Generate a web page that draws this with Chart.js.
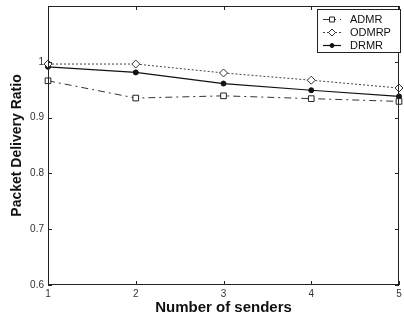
<!DOCTYPE html>
<html>
<head>
<meta charset="utf-8">
<script src="https://cdn.jsdelivr.net/npm/chart.js@4.4.1/dist/chart.umd.min.js"></script>
<style>
  html, body { margin: 0; padding: 0; background: #fff; }
  #wrap { width: 404px; height: 322px; }
</style>
</head>
<body>
<div id="wrap"><canvas id="myChart"></canvas></div>
<script>
const senders = [1, 2, 3, 4, 5];
const admr  = [0.966, 0.935, 0.939, 0.934, 0.929];
const odmrp = [0.996, 0.996, 0.980, 0.967, 0.953];
const drmr  = [0.991, 0.981, 0.961, 0.949, 0.938];
const yTicks = [0.6, 0.7, 0.8, 0.9, 1];

const toPoints = (vals) => senders.map((x, i) => ({ x: x, y: vals[i] }));

// inward ticks on all four sides + frame, like the matlab box
const boxPlugin = {
    id: 'box',
    afterDatasetsDraw(chart) {
        const { ctx, chartArea: a, scales } = chart;
        ctx.save();
        ctx.strokeStyle = '#222';
        ctx.lineWidth = 1;
        ctx.strokeRect(a.left + 0.5, a.top + 0.5, a.right - a.left - 1, a.bottom - a.top - 1);
        ctx.beginPath();
        scales.x.ticks.forEach(t => {
            const px = Math.round(scales.x.getPixelForValue(t.value)) + 0.5;
            ctx.moveTo(px, a.bottom); ctx.lineTo(px, a.bottom - 4);
            ctx.moveTo(px, a.top); ctx.lineTo(px, a.top + 4);
        });
        scales.y.ticks.forEach(t => {
            const py = Math.round(scales.y.getPixelForValue(t.value)) + 0.5;
            ctx.moveTo(a.left, py); ctx.lineTo(a.left + 4, py);
            ctx.moveTo(a.right, py); ctx.lineTo(a.right - 4, py);
        });
        ctx.stroke();
        ctx.restore();
    }
};

// framed legend with line samples, top right
const legendPlugin = {
    id: 'boxLegend',
    afterDraw(chart) {
        const { ctx } = chart;
        const x0 = 317, y0 = 9, w = 83, h = 43;
        ctx.save();
        ctx.fillStyle = '#fff';
        ctx.fillRect(x0, y0, w, h);
        ctx.strokeStyle = '#222';
        ctx.lineWidth = 1;
        ctx.strokeRect(x0 + 0.5, y0 + 0.5, w, h);
        chart.data.datasets.forEach((ds, i) => {
            const y = y0 + 10.5 + i * 13;
            ctx.strokeStyle = ds.borderColor;
            ctx.lineWidth = ds.borderWidth;
            ctx.setLineDash(ds.borderDash || []);
            ctx.beginPath();
            ctx.moveTo(x0 + 6, y); ctx.lineTo(x0 + 24, y);
            ctx.stroke();
            ctx.setLineDash([]);
            ctx.fillStyle = ds.pointBackgroundColor;
            ctx.strokeStyle = ds.pointBorderColor;
            ctx.lineWidth = 1;
            Chart.helpers.drawPoint(ctx, {
                pointStyle: ds.pointStyle,
                radius: ds.pointRadius - 0.5,
                borderWidth: 1
            }, x0 + 15, y);
            ctx.fillStyle = '#111';
            ctx.font = '11px "Liberation Sans", Arial, sans-serif';
            ctx.textBaseline = 'middle';
            ctx.fillText(ds.label, x0 + 33, y + 0.5);
        });
        ctx.restore();
    }
};

const ctx = document.getElementById('myChart');

new Chart(ctx, {
    type: 'line',
    data: {
        datasets: [{
            label: 'ADMR',
            data: toPoints(admr),
            borderColor: '#333',
            borderWidth: 1,
            borderDash: [7, 4, 2, 4],
            pointStyle: 'rect',
            pointRadius: 4,
            pointBackgroundColor: '#fff',
            pointBorderColor: '#222',
            pointBorderWidth: 1
        }, {
            label: 'ODMRP',
            data: toPoints(odmrp),
            borderColor: '#444',
            borderWidth: 1,
            borderDash: [2, 2],
            pointStyle: 'rectRot',
            pointRadius: 4,
            pointBackgroundColor: '#fff',
            pointBorderColor: '#333',
            pointBorderWidth: 1
        }, {
            label: 'DRMR',
            data: toPoints(drmr),
            borderColor: '#111',
            borderWidth: 1.2,
            pointStyle: 'circle',
            pointRadius: 2.5,
            pointBackgroundColor: '#111',
            pointBorderColor: '#111',
            pointBorderWidth: 1
        }]
    },
    options: {
        responsive: true,
        maintainAspectRatio: false,
        animation: false,
        clip: false,
        layout: { padding: { top: 6, right: 1, left: 0, bottom: 0 } },
        plugins: {
            legend: { display: false },
            tooltip: { enabled: false }
        },
        scales: {
            x: {
                type: 'linear',
                min: 1,
                max: 5,
                grid: { display: false, drawTicks: false },
                border: { display: false },
                ticks: {
                    stepSize: 1,
                    padding: 3,
                    color: '#333',
                    font: { family: '"Liberation Sans", Arial, sans-serif', size: 10 }
                },
                title: {
                    display: true,
                    text: 'Number of senders',
                    color: '#111',
                    padding: { top: 0, bottom: 5 },
                    font: { family: '"Liberation Sans", Arial, sans-serif', size: 15, weight: 'bold' }
                },
                afterFit(scale) {
                    scale.height = 37;
                    scale.paddingLeft = 0;
                    scale.paddingRight = 0;
                }
            },
            y: {
                min: 0.6,
                max: 1.1,
                grid: { display: false, drawTicks: false },
                border: { display: false },
                afterBuildTicks(scale) {
                    scale.ticks = yTicks.map(v => ({ value: v }));
                },
                ticks: {
                    padding: 4,
                    color: '#333',
                    font: { family: '"Liberation Sans", Arial, sans-serif', size: 10 },
                    callback: (v) => String(Math.round(v * 10) / 10)
                },
                title: {
                    display: true,
                    text: 'Packet Delivery Ratio',
                    color: '#111',
                    padding: { top: 9, bottom: 0 },
                    font: { family: '"Liberation Sans", Arial, sans-serif', size: 14, weight: 'bold' }
                },
                afterFit(scale) {
                    scale.width = 48;
                    scale.paddingTop = 0;
                    scale.paddingBottom = 0;
                }
            }
        }
    },
    plugins: [boxPlugin, legendPlugin]
});
</script>
</body>
</html>
